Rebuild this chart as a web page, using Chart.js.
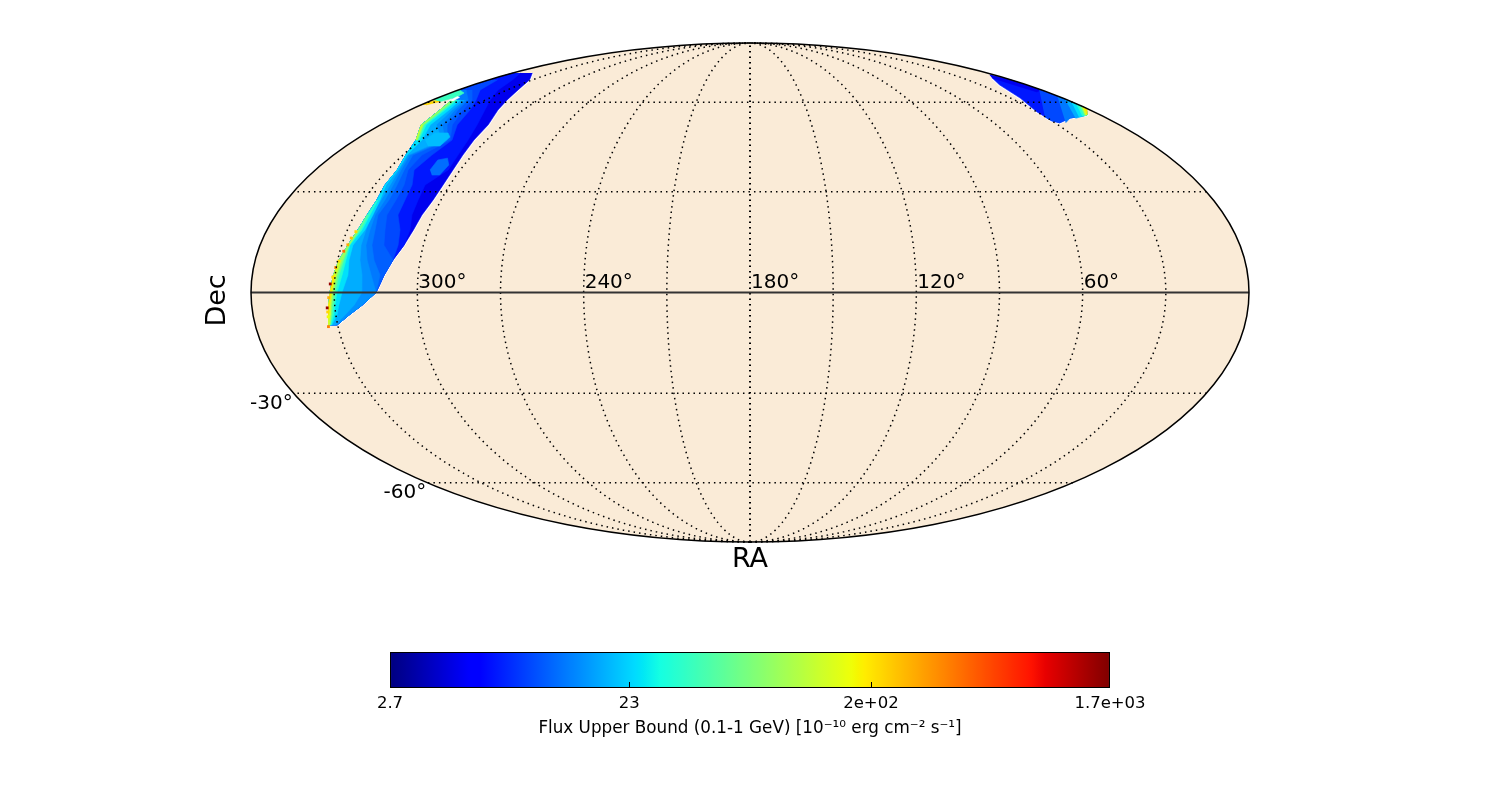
<!DOCTYPE html>
<html>
<head>
<meta charset="utf-8">
<title>Flux upper bound sky map</title>
<script src="https://cdn.jsdelivr.net/npm/chart.js@4"></script>
<style>
  html, body { margin: 0; padding: 0; background: #fff; }
  canvas { display: block; }
  #colorbar { position: absolute; left: 0; top: 640px; }
</style>
</head>
<body>
<canvas id="skyMap" width="1500" height="800"></canvas>
<canvas id="colorbar" width="1500" height="110"></canvas>
<script>
// graticule and labels, degrees
const raGrid = [30, 60, 90, 120, 150, 180, 210, 240, 270, 300, 330];
const decGrid = [-60, -30, 30, 60];
const raLabels = [300, 240, 180, 120, 60];
const decLabels = [-30, -60];

// main band: one row per declination, RA of its two edges
const decRows = [72.0, 69.0, 64.8, 60.9, 57.1, 51.8, 46.6, 41.6, 36.8, 32.1, 27.4, 22.9, 18.4, 13.9, 9.5, 5.1, 0, -3.7, -6.6, -9.5];
const raEast = [359.9, 359.0, 359.7, 349.0, 344.0, 340.1, 332.2, 328.7, 326.1, 325.9, 324.9, 325.3, 326.1, 327.7, 329.5, 330.6, 331.5, 332.2, 332.8, 333.2];
const raWest = [345.4, 332.1, 323.3, 317.8, 313.3, 307.5, 305.8, 304.1, 303.0, 302.7, 303.1, 304.5, 305.4, 307.1, 309.9, 312.3, 314.9, 320.1, 325.2, 330.2];

// flux contours across the band, RA per row (null = level absent on that row)
const bandBaseFlux = 5;
const bandFlux = [7, 9.5, 11, 13, 15, 18, 25, 35, 55, 85, 130, 200];
const n = null;
const bandRa = [
  [354.5, 343.8, 335.6, 327.4, 320.2, 312.9, 308.5, 306.2, 305.0, 309.9, 308.9, 308.3, 306.7, 307.1, 309.9, 312.3, 314.9, 320.1, 325.2, 330.2],
  [n, 354.2, 346.7, 335.4, 328.1, 322.6, 315.8, 317.5, 319.1, 315.1, 314.0, 313.6, 310.4, 309.3, 309.9, 312.3, 314.9, 320.1, 325.2, 330.2],
  [n, n, 351.7, 337.6, 331.8, 325.0, 316.7, 321.8, 321.6, 318.3, 317.5, 317.8, 316.0, 314.5, 309.9, 312.3, 314.9, 320.1, 325.2, 330.2],
  [n, n, 355.4, 339.9, 334.5, 327.5, 318.1, 325.7, 323.2, 321.1, 320.2, 321.2, 319.7, 318.9, 316.8, 313.8, 314.9, 320.1, 325.2, 330.2],
  [n, n, n, 341.0, 336.1, 329.9, 319.0, 327.0, 324.5, 322.7, 321.8, 322.3, 321.6, 321.1, 319.3, 317.0, 314.9, 320.1, 325.2, 330.2],
  [n, n, n, 342.2, 337.6, 332.8, 320.4, 327.8, 325.3, 323.9, 323.3, 323.5, 323.1, 322.9, 321.9, 320.3, 320.0, 323.0, 326.7, 331.0],
  [n, n, n, 344.4, 339.2, 335.7, 329.5, 328.3, 325.9, 325.5, 323.7, 323.1, 323.5, 325.9, 325.9, 325.4, 327.2, 328.5, 329.6, 332.1],
  [n, n, n, 346.1, 341.3, 337.7, 330.8, n, n, n, 324.5, 324.2, 324.6, 327.0, 327.0, 327.5, 329.0, 329.9, 330.7, 332.4],
  [n, n, n, 347.3, 342.4, 338.7, 331.3, n, n, n, n, 325.0, 325.3, 327.2, 327.7, 328.6, 329.7, 330.6, 331.4, 332.8],
  [n, n, n, 348.4, 343.2, 339.1, 331.7, n, n, n, n, n, 325.7, 327.4, 328.2, 329.3, 330.2, 331.2, 331.8, 332.8],
  [n, n, n, n, n, 339.6, 332.0, n, n, n, n, n, n, n, 328.8, 329.7, 330.8, 331.5, 332.1, 333.0],
  [n, n, n, n, n, n, n, n, n, n, n, n, n, n, n, 330.1, 331.1, 331.9, 332.5, n]
];

// smaller regions of the band, drawn over the contours (flux null = no data)
const patchFlux = [12, 20, 220, 40, null];
const patchRa = [
  [312.5, 312.9, 309.5, 306.4, 306.9, 310.1],
  [328.1, 327.8, 321.7, 318.4, 318.2, 323.5],
  [359.9, 358.0, 353.6, 357.2],
  [359.5, 359.5, 351.8, 350.0, 353.6],
  [349.9, 350.5, 348.2, 347.2]
];
const patchDec = [
  [36.8, 40.0, 40.6, 38.4, 35.2, 35.2],
  [46.6, 49.0, 49.0, 47.6, 44.6, 44.6],
  [59.0, 60.9, 60.3, 59.0],
  [60.9, 64.8, 63.6, 62.0, 60.3],
  [60.7, 62.2, 61.9, 60.5]
];

// single hot cells along the band's east edge
const hotRa = [331.5, 332.8, 333.5, 328.6, 327.4, 326.6, 327.8, 329.5, 330.2, 330.8, 332.0, 332.8, 332.9];
const hotDec = [2.5, -4.5, -10.0, 12.1, 16.0, 17.9, 14.0, 9.2, 7.3, 4.5, -1.5, -5.7, -7.1];
const hotFlux = [1500, 1500, 400, 450, 260, 220, 300, 210, 350, 210, 280, 220, 170];

// second region near RA 0-30
const capOutlineRa = [3.3, 0.5, 0.5, 0.5, 0.3, 7.0, 18.5, 27.6, 30.0, 30.0, 24.5, 17.6, 9.1];
const capOutlineDec = [71.1, 69.0, 64.8, 60.9, 57.7, 55.3, 54.2, 52.5, 53.2, 56.4, 61.6, 66.9, 69.7];
const capFlux = [5, 9.5, 13, 18, 25, 35, 55, 130, 200];
const capRa = [
  [3.3, 0.5, 0.5, 6.0, 9.1],
  [0.5, 0.5, 0.3, 7.0, 18.5, 27.6, 30.0, 30.3],
  [0.5, 0.5, 0.3, 7.0, 18.5, 24.7],
  [0.5, 0.3, 7.0, 16.0],
  [0.5, 0.3, 7.0, 13.0],
  [0.5, 0.3, 7.0, 10.6],
  [0.5, 0.3, 7.0, 9.0],
  [0.5, 0.3, 7.0, 8.0],
  [0.5, 0.3, 6.5]
];
const capDec = [
  [71.1, 69.0, 64.8, 64.0, 69.7],
  [65.0, 60.9, 57.7, 55.3, 54.2, 52.5, 53.2, 54.6],
  [62.3, 60.9, 57.7, 55.3, 54.2, 52.5],
  [61.1, 57.7, 55.3, 54.1],
  [60.1, 57.7, 55.3, 54.6],
  [59.3, 57.7, 55.3, 54.9],
  [58.8, 57.7, 55.3, 55.1],
  [58.4, 57.7, 55.3, 55.3],
  [58.1, 57.7, 55.5]
];

// colorbar
const fluxMin = 2.7;
const fluxMax = 1700;
const colorbarTicks = [2.7, 23, 200, 1700];
const colorbarLabels = ['2.7', '23', '2e+02', '1.7e+03'];
const colorbarInnerTicks = [23, 200];

const FONT = '"DejaVu Sans", sans-serif';

function lerpStops(stops, t) {
  for (let i = 1; i < stops.length; i++) {
    if (t <= stops[i][0]) {
      const a = stops[i - 1], b = stops[i];
      return a[1] + (b[1] - a[1]) * (t - a[0]) / (b[0] - a[0]);
    }
  }
  return stops[stops.length - 1][1];
}

// matplotlib jet
const jetR = [[0, 0], [0.35, 0], [0.66, 1], [0.89, 1], [1, 0.5]];
const jetG = [[0, 0], [0.125, 0], [0.375, 1], [0.64, 1], [0.91, 0], [1, 0]];
const jetB = [[0, 0.5], [0.11, 1], [0.34, 1], [0.65, 0], [1, 0]];
function jet(t) {
  const c = [jetR, jetG, jetB].map(s => Math.round(255 * lerpStops(s, t)));
  return 'rgb(' + c.join(',') + ')';
}
function fluxColor(f) {
  if (f === null) return '#ffffff';
  return jet(Math.log(f / fluxMin) / Math.log(fluxMax / fluxMin));
}

// Mollweide, RA 180 in the middle and increasing to the left
function project(ra, dec) {
  const target = Math.PI * Math.sin(dec * Math.PI / 180);
  let lo = -Math.PI / 2, hi = Math.PI / 2;
  for (let i = 0; i < 40; i++) {
    const mid = (lo + hi) / 2;
    if (2 * mid + Math.sin(2 * mid) < target) lo = mid; else hi = mid;
  }
  const theta = (lo + hi) / 2;
  const lambda = (180 - ra) * Math.PI / 180;
  return { x: 2 * Math.SQRT2 / Math.PI * lambda * Math.cos(theta), y: Math.SQRT2 * Math.sin(theta) };
}

function polygon(ras, decs, flux) {
  const color = fluxColor(flux);
  return {
    data: ras.map((r, i) => project(r, decs[i])),
    showLine: true, fill: 'shape', backgroundColor: color,
    borderColor: color, borderWidth: 0.6, pointRadius: 0, clip: false
  };
}

const datasets = [];

// white fringe of the empty cells on the west side
datasets.push({
  data: raWest.map((r, i) => project(r, decRows[i])),
  showLine: true, fill: false, borderColor: '#ffffff', borderWidth: 2.5, pointRadius: 0, clip: false
});
datasets.push({
  data: capOutlineRa.slice(4).map((r, i) => project(r, capOutlineDec[i + 4])),
  showLine: true, fill: false, borderColor: '#ffffff', borderWidth: 2.5, pointRadius: 0, clip: false
});

datasets.push(polygon(raEast.concat(raWest.slice().reverse()), decRows.concat(decRows.slice().reverse()), bandBaseFlux));

bandRa.forEach((contour, level) => {
  let run = [];
  for (let i = 0; i <= contour.length; i++) {
    if (i < contour.length && contour[i] !== null) { run.push(i); continue; }
    if (run.length > 1) {
      const east = run.map(k => raEast[k]);
      const inner = run.map(k => contour[k]).reverse();
      const decs = run.map(k => decRows[k]);
      datasets.push(polygon(east.concat(inner), decs.concat(decs.slice().reverse()), bandFlux[level]));
    }
    run = [];
  }
});

patchRa.forEach((ras, i) => datasets.push(polygon(ras, patchDec[i], patchFlux[i])));

datasets.push(polygon(capOutlineRa, capOutlineDec, 7));
capRa.forEach((ras, i) => datasets.push(polygon(ras, capDec[i], capFlux[i])));

datasets.push({
  data: hotRa.map((r, i) => project(r, hotDec[i])),
  pointStyle: 'rect', pointRadius: 2, pointBorderWidth: 0,
  pointBackgroundColor: hotFlux.map(fluxColor), clip: false
});

// later entries go on top
datasets.forEach((d, i) => { d.order = datasets.length - i; });

const graticule = {
  id: 'graticule',
  beforeDatasetsDraw(chart) {
    const { ctx, scales: { x, y } } = chart;
    ctx.save();
    ctx.beginPath();
    ctx.ellipse(x.getPixelForValue(0), y.getPixelForValue(0), x.getPixelForValue(2 * Math.SQRT2) - x.getPixelForValue(0), y.getPixelForValue(0) - y.getPixelForValue(Math.SQRT2), 0, 0, 2 * Math.PI);
    ctx.fillStyle = '#faebd7';
    ctx.fill();
    ctx.restore();
  },
  afterDatasetsDraw(chart) {
    const { ctx, scales: { x, y } } = chart;
    const cx = x.getPixelForValue(0), cy = y.getPixelForValue(0);
    const px = p => [x.getPixelForValue(p.x), y.getPixelForValue(p.y)];
    const trace = (points, dash, width, color) => {
      ctx.beginPath();
      points.forEach((p, i) => { const [a, b] = px(p); if (i) ctx.lineTo(a, b); else ctx.moveTo(a, b); });
      ctx.setLineDash(dash);
      ctx.lineWidth = width;
      ctx.strokeStyle = color;
      ctx.stroke();
    };
    ctx.save();
    raGrid.forEach(ra => {
      const pts = [];
      for (let d = -90; d <= 90; d += 1) pts.push(project(ra, d));
      trace(pts, [1.5, 4], ra === 180 ? 2 : 1.5, '#000');
    });
    decGrid.forEach(dec => {
      const pts = [];
      for (let r = 0; r <= 360; r += 4) pts.push(project(r, dec));
      trace(pts, [1.5, 4], 1.5, '#000');
    });
    const equator = [project(0, 0), project(360, 0)];
    trace(equator, [], 2, '#333');
    ctx.beginPath();
    ctx.ellipse(cx, cy, x.getPixelForValue(2 * Math.SQRT2) - cx, cy - y.getPixelForValue(Math.SQRT2), 0, 0, 2 * Math.PI);
    ctx.setLineDash([]);
    ctx.lineWidth = 1.5;
    ctx.strokeStyle = '#000';
    ctx.stroke();

    ctx.fillStyle = '#000';
    ctx.font = '20px ' + FONT;
    ctx.textBaseline = 'alphabetic';
    ctx.textAlign = 'left';
    raLabels.forEach(ra => {
      const [a] = px(project(ra, 0));
      ctx.fillText(ra + '°', a + 1, cy - 4.5);
    });
    ctx.textAlign = 'right';
    decLabels.forEach(dec => {
      const [a, b] = px(project(359.9, dec));
      ctx.fillText(dec + '°', a - 1, b + 15.5);
    });
    ctx.font = '27px ' + FONT;
    ctx.textAlign = 'center';
    ctx.fillText('RA', cx, y.getPixelForValue(-Math.SQRT2) + 25);
    ctx.translate(225, cy + 8);
    ctx.rotate(-Math.PI / 2);
    ctx.fillText('Dec', 0, 0);
    ctx.restore();
  }
};

new Chart(document.getElementById('skyMap'), {
  type: 'scatter',
  data: { datasets },
  plugins: [graticule],
  options: {
    responsive: false,
    animation: false,
    events: [],
    layout: { padding: { left: 251, right: 251, top: 43, bottom: 258 } },
    plugins: { legend: { display: false }, tooltip: { enabled: false } },
    scales: {
      x: { display: false, min: -2 * Math.SQRT2, max: 2 * Math.SQRT2 },
      y: { display: false, min: -Math.SQRT2, max: Math.SQRT2 }
    }
  }
});

const colorbarMarks = {
  id: 'colorbarMarks',
  afterDatasetsDraw(chart) {
    const { ctx, chartArea, scales: { x } } = chart;
    ctx.save();
    ctx.strokeStyle = '#000';
    ctx.lineWidth = 1;
    colorbarInnerTicks.forEach(v => {
      const a = Math.round(x.getPixelForValue(v)) + 0.5;
      ctx.beginPath();
      ctx.moveTo(a, chartArea.bottom);
      ctx.lineTo(a, chartArea.bottom - 6);
      ctx.stroke();
    });
    ctx.restore();
  }
};

new Chart(document.getElementById('colorbar'), {
  type: 'bar',
  data: {
    labels: ['flux'],
    datasets: [{
      data: [[fluxMin, fluxMax]],
      barPercentage: 1,
      categoryPercentage: 1,
      borderColor: '#000',
      borderWidth: 1.4,
      borderSkipped: false,
      backgroundColor(context) {
        const { ctx, chartArea } = context.chart;
        if (!chartArea) return '#00f';
        const g = ctx.createLinearGradient(chartArea.left, 0, chartArea.right, 0);
        for (let i = 0; i <= 256; i++) g.addColorStop(i / 256, jet(i / 256));
        return g;
      }
    }]
  },
  plugins: [colorbarMarks],
  options: {
    indexAxis: 'y',
    responsive: false,
    animation: false,
    events: [],
    layout: { padding: { left: 390, right: 390, top: 12, bottom: 0 } },
    plugins: { legend: { display: false }, tooltip: { enabled: false } },
    scales: {
      y: { display: false },
      x: {
        type: 'logarithmic',
        min: fluxMin,
        max: fluxMax,
        border: { display: false },
        grid: { drawOnChartArea: false, drawTicks: false },
        afterBuildTicks(scale) { scale.ticks = colorbarTicks.map(value => ({ value })); },
        afterFit(scale) { scale.height = 62; },
        ticks: {
          autoSkip: false,
          maxRotation: 0,
          padding: 6,
          color: '#000',
          font: { family: FONT, size: 16.5 },
          callback(value, index) { return colorbarLabels[index]; }
        },
        title: {
          display: true,
          text: 'Flux Upper Bound (0.1-1 GeV) [10⁻¹⁰ erg cm⁻² s⁻¹]',
          color: '#000',
          font: { family: FONT, size: 16.8 },
          padding: { top: 0, bottom: 11 }
        }
      }
    }
  }
});
</script>
</body>
</html>
